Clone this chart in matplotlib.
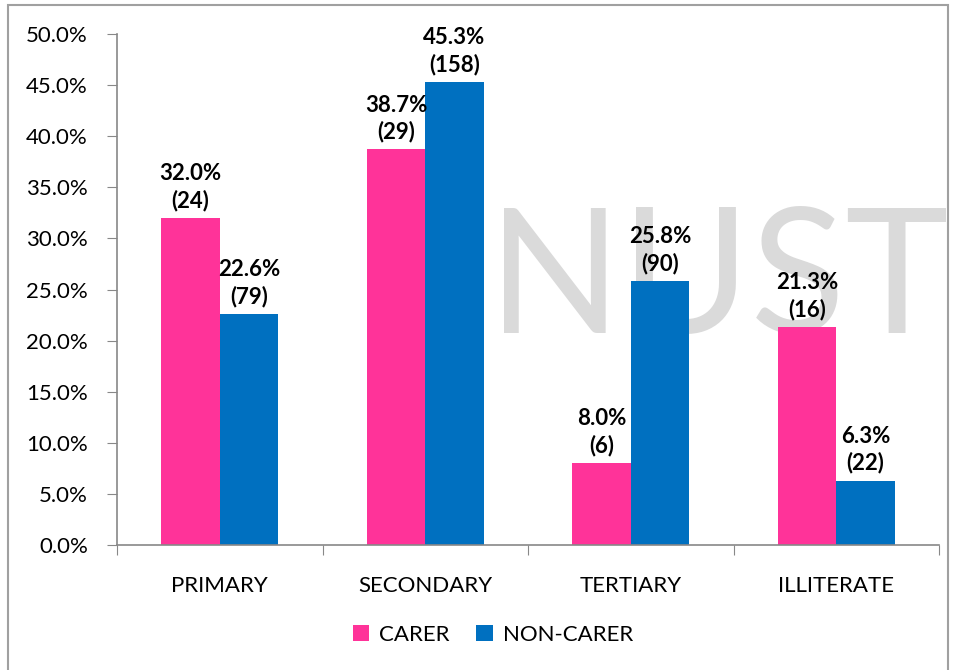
import numpy as np
import matplotlib.pyplot as plt
from matplotlib.patches import Rectangle

plt.rcParams['font.family'] = ['Lato', 'DejaVu Sans']

categories = ['PRIMARY', 'SECONDARY', 'TERTIARY', 'ILLITERATE']
carer = [32.0, 38.7, 8.0, 21.3]
carer_n = [24, 29, 6, 16]
non_carer = [22.6, 45.3, 25.8, 6.3]
non_carer_n = [79, 158, 90, 22]
yticks = np.arange(0, 50.1, 5)

pink = '#FF3399'
blue = '#0070C0'

fig = plt.figure(figsize=(9.58, 6.70), dpi=100)
ax = fig.add_axes([117 / 958, 1 - 545 / 670, 822 / 958, 511 / 670])
ax.set_zorder(1)

# faint watermark, drawn behind the axes
fig.text(718 / 958, 1 - 284 / 670, 'NUST', fontsize=126, color='#dadada',
         ha='center', va='center', zorder=0)

x = np.arange(len(categories))
w = 0.285
b1 = ax.bar(x - w / 2, carer, w, color=pink, label='CARER', zorder=2)
b2 = ax.bar(x + w / 2, non_carer, w, color=blue, label='NON-CARER', zorder=2)

for bars, vals, ns in [(b1, carer, carer_n), (b2, non_carer, non_carer_n)]:
    for r, v, n in zip(bars, vals, ns):
        ax.annotate(f'{v:.1f}%\n({n})', (r.get_x() + r.get_width() / 2, v),
                    xytext=(0, 5), textcoords='offset points', ha='center', va='bottom',
                    fontsize=16, fontweight='bold', linespacing=1.3, zorder=3)

ax.set_xlim(-0.5, len(categories) - 0.5)
ax.set_ylim(0, 50)
ax.set_yticks(yticks)
ax.set_yticklabels([f'{t:.1f}%' for t in yticks], fontsize=16)
ax.set_xticks(np.arange(-0.5, len(categories), 1))
ax.set_xticklabels([])
ax.set_xticks(x, minor=True)
ax.set_xticklabels(categories, minor=True, fontsize=16)
ax.tick_params(axis='x', which='minor', length=0, pad=22)
ax.tick_params(axis='x', which='major', length=7, color='#888888', direction='out')
ax.tick_params(axis='y', length=7, color='#888888', pad=14)
for s in ['top', 'right']:
    ax.spines[s].set_visible(False)
for s in ['left', 'bottom']:
    ax.spines[s].set_color('#888888')
    ax.spines[s].set_linewidth(1.2)
ax.patch.set_alpha(0)

fig.legend(loc='center', bbox_to_anchor=(493 / 958, 1 - 635 / 670), ncol=2, frameon=False,
           fontsize=16, handlelength=0.75, handleheight=0.75, handletextpad=0.45,
           columnspacing=1.2)

fig.patches.append(Rectangle((8 / 958, -0.02), 940 / 958, 1 - 5 / 670 + 0.02,
                             transform=fig.transFigure, fill=False, edgecolor='#a0a0a0',
                             linewidth=1.5))

fig.savefig('out.png', dpi=100)
